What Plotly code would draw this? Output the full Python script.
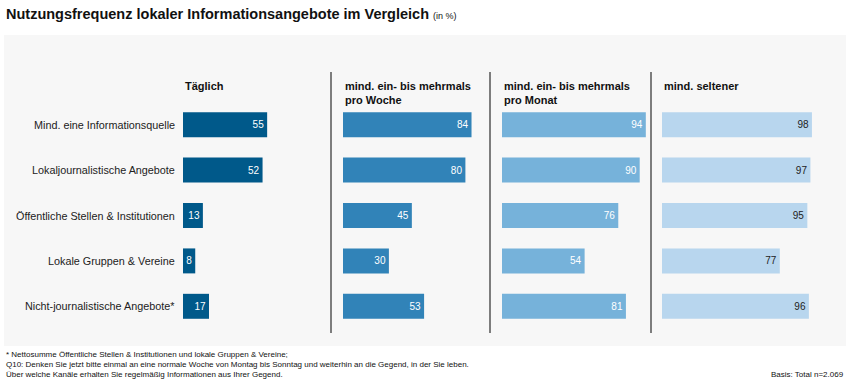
import plotly.graph_objects as go

categories = ["Mind. eine Informationsquelle", "Lokaljournalistische Angebote",
              "Öffentliche Stellen & Institutionen", "Lokale Gruppen & Vereine",
              "Nicht-journalistische Angebote*"]
headers = ["Täglich", "mind. ein- bis mehrmals<br>pro Woche",
           "mind. ein- bis mehrmals<br>pro Monat", "mind. seltener"]
taeglich = [55, 52, 13, 8, 17]
woche = [84, 80, 45, 30, 53]
monat = [94, 90, 76, 54, 81]
seltener = [98, 97, 95, 77, 96]
series = [taeglich, woche, monat, seltener]
colors = ["#00598a", "#3183b8", "#76b2da", "#b8d6ee"]
text_colors = ["white", "white", "white", "#222222"]

title = "Nutzungsfrequenz lokaler Informationsangebote im Vergleich"
unit = "(in %)"
footnotes = ["* Nettosumme Öffentliche Stellen & Institutionen und lokale Gruppen & Vereine;",
             "Q10: Denken Sie jetzt bitte einmal an eine normale Woche von Montag bis Sonntag und weiterhin an die Gegend, in der Sie leben.",
             "Über welche Kanäle erhalten Sie regelmäßig Informationen aus Ihrer Gegend."]
basis = "Basis: Total n=2.069"

W, H = 850, 383
FONT = "Liberation Sans"

def px(x):
    return x / W

def py(y):
    return 1 - y / H

fig = go.Figure()
starts = [183, 343, 502, 662]
panel_w = 153
for i, vals in enumerate(series):
    xa = "x" if i == 0 else f"x{i+1}"
    fig.add_trace(go.Bar(
        x=vals, y=list(range(len(categories))), orientation="h",
        marker=dict(color=colors[i], line=dict(width=0)),
        width=0.55, text=[str(v) for v in vals], textposition="inside",
        insidetextanchor="end", constraintext="none",
        textfont=dict(color=text_colors[i], size=10, family=FONT),
        xaxis=xa, yaxis="y", hoverinfo="skip", showlegend=False))
    key = "xaxis" if i == 0 else f"xaxis{i+1}"
    fig.layout[key] = dict(domain=[px(starts[i]), px(starts[i] + panel_w)],
                           range=[0, 100], visible=False, anchor="y",
                           fixedrange=True)

fig.update_layout(
    width=W, height=H, margin=dict(l=0, r=0, t=0, b=0),
    paper_bgcolor="white", plot_bgcolor="rgba(0,0,0,0)",
    bargap=0.45,
    yaxis=dict(domain=[py(329), py(102)], range=[4.5, -0.5], visible=False,
               fixedrange=True),
    font=dict(family=FONT, color="#222222"),
)

shapes = [dict(type="rect", xref="paper", yref="paper", x0=px(4), x1=px(846),
               y0=py(346), y1=py(35), fillcolor="#f7f7f7", line=dict(width=0),
               layer="below")]
for dx in [331, 490, 651]:
    shapes.append(dict(type="line", xref="paper", yref="paper", x0=px(dx), x1=px(dx),
                       y0=py(333), y1=py(72), line=dict(color="#555555", width=1.5)))
fig.update_layout(shapes=shapes)

ann = []
ann.append(dict(text=f"<b>{title}</b> <span style='font-size:9px'>{unit}</span>",
                xref="paper", yref="paper", x=px(4), y=py(14), xanchor="left",
                yanchor="middle", showarrow=False, font=dict(size=14.5, color="#111111")))
for i, h in enumerate(headers):
    ann.append(dict(text=f"<b>{h}</b>", xref="paper", yref="paper", x=px(starts[i]),
                    y=py(78), xanchor="left", yanchor="top", align="left",
                    showarrow=False, font=dict(size=11, color="#111111")))
for j, c in enumerate(categories):
    ann.append(dict(text=c, xref="paper", yref="y", x=px(177), y=j, xanchor="right",
                    yanchor="middle", showarrow=False, font=dict(size=10.8, color="#222222")))
for k, f in enumerate(footnotes):
    ann.append(dict(text=f, xref="paper", yref="paper", x=px(4), y=py(354 + 10 * k),
                    xanchor="left", yanchor="middle", showarrow=False,
                    font=dict(size=8, color="#111111")))
ann.append(dict(text=basis, xref="paper", yref="paper", x=px(846), y=py(374),
                xanchor="right", yanchor="middle", showarrow=False,
                font=dict(size=8, color="#111111")))
fig.update_layout(annotations=ann)

fig.write_html("out.html", config={"displayModeBar": False, "staticPlot": True},
               post_script="document.body.style.margin='0';")
